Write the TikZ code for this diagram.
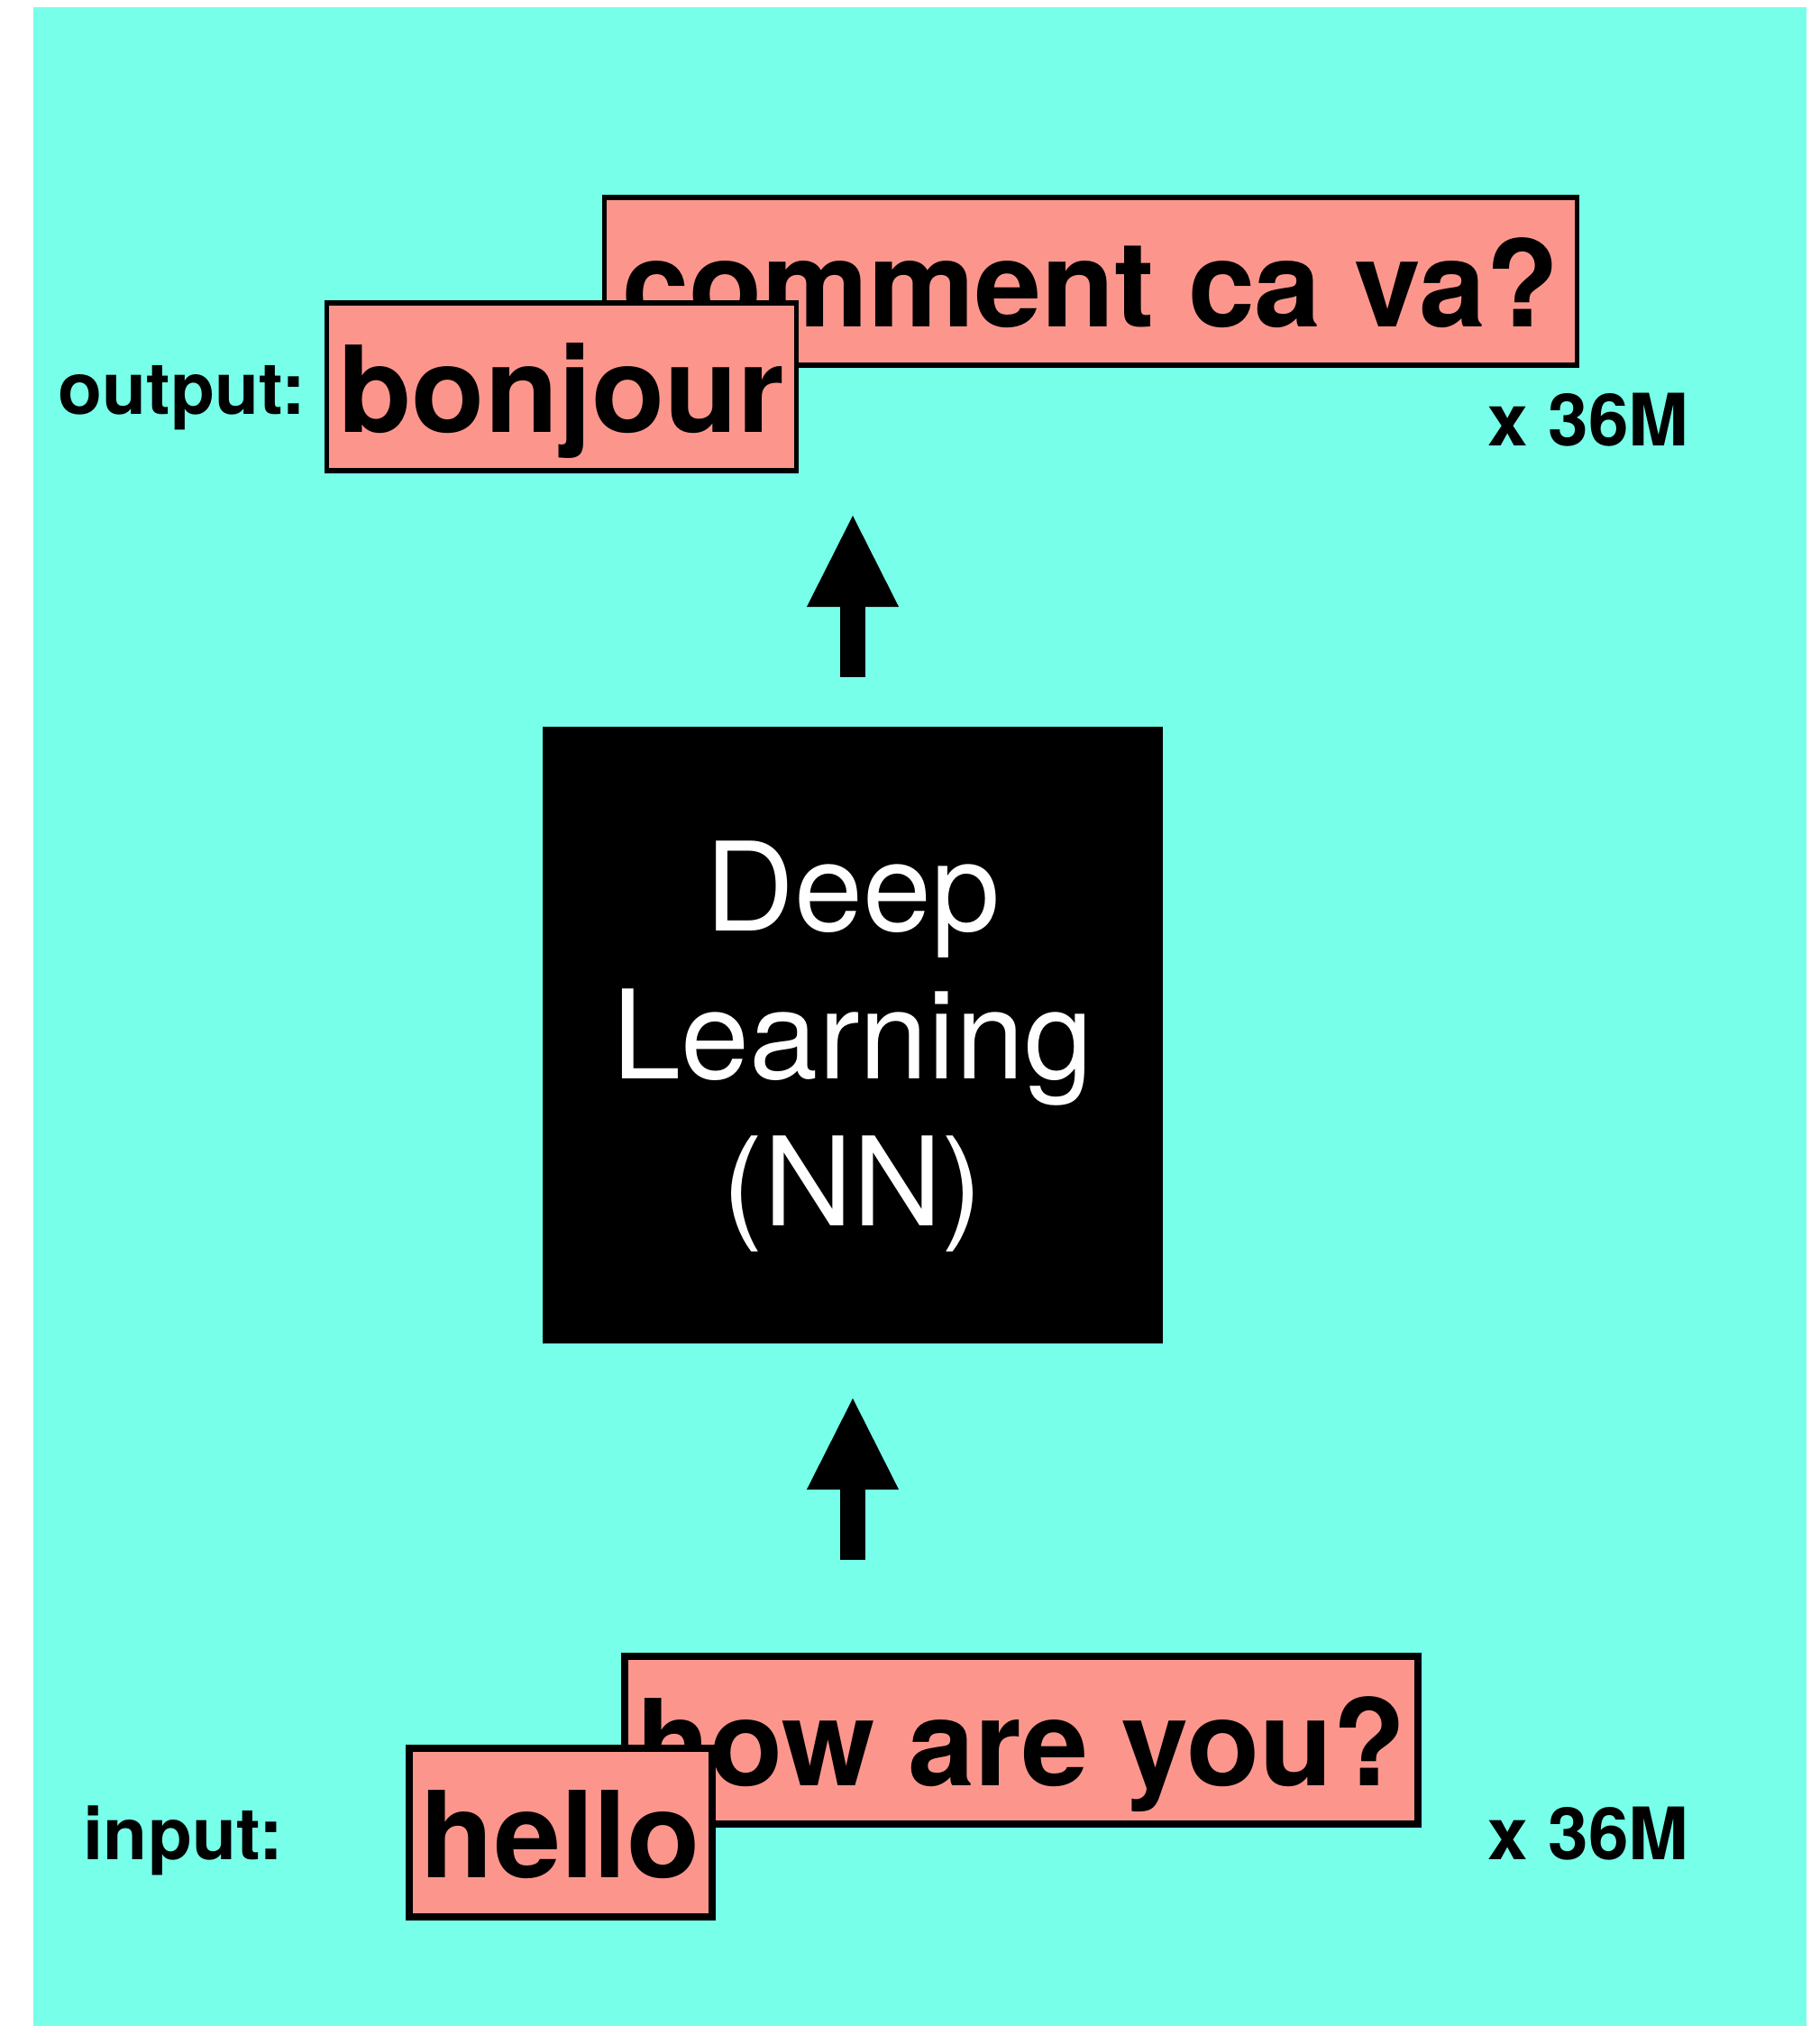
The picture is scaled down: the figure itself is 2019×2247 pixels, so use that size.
\documentclass[tikz,border=0pt]{standalone}
\usepackage{fontspec}
\setmainfont{TeX Gyre Heros}
\usetikzlibrary{arrows.meta,positioning}
\definecolor{bgcyan}{RGB}{119,255,234}
\definecolor{wordred}{RGB}{252,150,140}

\begin{document}
\begin{tikzpicture}[
        x=0.01cm, y=-0.01cm,
        word/.style={draw, fill=wordred, line width=0.055cm, inner xsep=0.13cm, inner ysep=0pt,
            text height=1.43cm, text depth=0.43cm, font=\fontsize{37.8}{45}\selectfont\bfseries},
        tag/.style={anchor=base west, inner sep=0pt, font=\fontsize{22.8}{27}\selectfont\bfseries},
        bigarrow/.style={line width=0.27cm, -{Triangle[length=1.01cm, width=1.02cm, line width=0pt]}}
    ]
        % background
        \useasboundingbox (0,0) rectangle (2019,2247);
        \fill[bgcyan] (37,8) rectangle (2004,2247);

        % output side
        \node[word, minimum width=10.78cm] (cava) at (1210,312) {comment ca va?};
        \node[word] (bonjour) at (623,429) {bonjour};
        \node[tag] (outlbl) at (64,459) {output:};
        \node[tag] (outcount) at (1650,494) {x 36M};

        % network
        \node[fill=black, text=white, minimum width=6.88cm, minimum height=6.84cm, align=center,
            font=\fontsize{38.9}{46.4}\selectfont] (nn) at (946,1148) {
            \rule{0pt}{1.25cm}Deep\\
            Learning\\
            (NN)
        };

        % input side
        \node[word, line width=0.08cm] (howru) at (1133,1930) {how are you?};
        \node[word, line width=0.08cm] (hello) at (622,2032.5) {hello};
        \node[tag] (inlbl) at (92,2062) {input:};
        \node[tag] (incount) at (1650,2062) {x 36M};

        % Arrows
        \draw[bigarrow] ([yshift=-2.39cm]nn.south) -- ([yshift=-0.6cm]nn.south);
        \draw[bigarrow] ([yshift=0.54cm]nn.north) -- ([yshift=2.33cm]nn.north);
    \end{tikzpicture}
\end{document}
